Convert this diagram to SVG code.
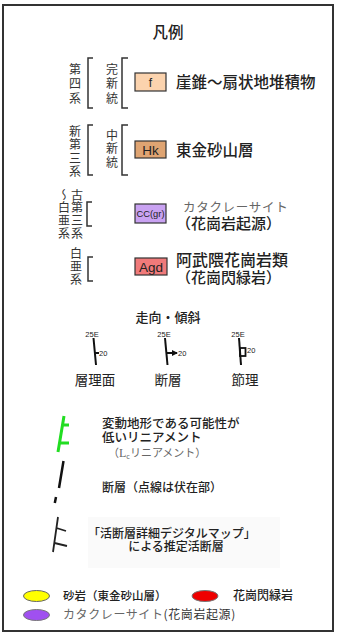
<svg xmlns="http://www.w3.org/2000/svg" width="338" height="636" viewBox="0 0 338 636">
<style>
text{font-family:"Noto Sans CJK JP","Noto Sans",sans-serif;fill:#222}
.v{font-size:12px;fill:#333;writing-mode:vertical-rl}
.lbl{font-size:15.5px;font-weight:500}
.sm{font-size:12.5px;font-weight:500}
.gray{fill:#666}
.br{fill:none;stroke:#333;stroke-width:1.5}
.box{stroke:#333;stroke-width:1.2}
.bt{font-family:"Liberation Sans",Arial,sans-serif;text-anchor:middle;fill:#222}
.sym{stroke:#111;stroke-width:2;fill:none}
.tiny{font-family:"Liberation Sans",Arial,sans-serif;font-size:7.5px;fill:#222}
</style>
<defs>
<marker id="ah" markerWidth="6" markerHeight="6" refX="5" refY="3" orient="auto" markerUnits="userSpaceOnUse">
<path d="M0,0 L6,3 L0,6 Z" fill="#111"/>
</marker>
</defs>
<rect x="3" y="5" width="330" height="626" fill="#fff" stroke="#333" stroke-width="2"/>
<text x="168" y="38" font-size="15.5" text-anchor="middle" font-weight="500">凡例</text>

<g id="row-f">
<text class="v" x="75" y="63" letter-spacing="2.5">第四系</text>
<path class="br" d="M93,58 H88 V108 H93"/>
<text class="v" x="112" y="63" letter-spacing="2.5">完新統</text>
<path class="br" d="M128,58 H122 V108 H128"/>
<rect class="box" x="135" y="73" width="31" height="18" fill="#fbd3ae"/>
<text class="bt" x="150.5" y="87" font-size="12">f</text>
<text class="lbl" x="176" y="88">崖錐～扇状地堆積物</text>
</g>

<g id="row-hk">
<text class="v" x="75" y="125" letter-spacing="1.5">新第三系</text>
<path class="br" d="M93,125 H88 V175 H93"/>
<text class="v" x="112" y="129" letter-spacing="1.5">中新統</text>
<path class="br" d="M128,125 H122 V175 H128"/>
<rect class="box" x="135" y="141" width="31" height="17" fill="#dfa472"/>
<text class="bt" x="150.5" y="154.5" font-size="13.5">Hk</text>
<text class="lbl" x="176" y="156">東金砂山層</text>
</g>

<g id="row-cc">
<text class="v" x="64" y="189" letter-spacing="0.7">～白亜系</text>
<text class="v" x="77" y="189" letter-spacing="0.7">古第三系</text>
<path class="br" d="M92,202 H87 V226 H92"/>
<rect class="box" x="135" y="204" width="31" height="19" fill="#c9a2f2"/>
<text class="bt" x="150.5" y="217" font-size="8.5" font-family="Liberation Mono,monospace" textLength="28" lengthAdjust="spacingAndGlyphs">CC(gr)</text>
<text x="176" y="212"><tspan class="gray" x="183" font-size="12.5" letter-spacing="0.7">カタクレーサイト</tspan><tspan x="176" y="229" font-size="15" font-weight="500">（花崗岩起源）</tspan></text>
</g>

<g id="row-agd">
<text class="v" x="76" y="247" letter-spacing="1">白亜系</text>
<path class="br" d="M93,257 H88 V281 H93"/>
<rect class="box" x="135" y="258" width="32" height="17" fill="#f07a7a"/>
<text class="bt" x="151" y="271.5" font-size="13.5">Agd</text>
<text class="lbl" x="176" y="266"><tspan font-size="16">阿武隈花崗岩類</tspan><tspan x="176" y="283" font-size="15">（花崗閃緑岩）</tspan></text>
</g>

<text x="168" y="322" font-size="13" text-anchor="middle" font-weight="500">走向・傾斜</text>

<g id="sym-bedding">
<text class="tiny" x="92" y="337" text-anchor="middle">25E</text>
<path class="sym" d="M93.5,338 L96,365 M95,353 H99"/>
<text class="tiny" x="99" y="356" font-size="8">20</text>
<text x="95" y="385" font-size="13.5" text-anchor="middle">層理面</text>
</g>
<g id="sym-fault">
<text class="tiny" x="164" y="337" text-anchor="middle">25E</text>
<path class="sym" d="M165,338 L167.5,365"/>
<path class="sym" d="M166.5,353 H177" marker-end="url(#ah)"/>
<text class="tiny" x="178" y="356" font-size="8">20</text>
<text x="168" y="385" font-size="13.5" text-anchor="middle">断層</text>
</g>
<g id="sym-joint">
<text class="tiny" x="238" y="337" text-anchor="middle">25E</text>
<path class="sym" d="M239,338 L241,365"/>
<rect x="240" y="348" width="5.5" height="8" fill="none" stroke="#111" stroke-width="1.8"/>
<text class="tiny" x="247" y="353" font-size="8">20</text>
<text x="245" y="385" font-size="13.5" text-anchor="middle">節理</text>
</g>

<g id="lineament">
<path d="M64,416 L58,452 M62.5,425 H69 M59.5,443 H69" stroke="#22dd22" stroke-width="3" fill="none"/>
<text class="sm" x="102" y="428">変動地形である可能性が<tspan x="102" y="442">低いリニアメント</tspan><tspan class="gray" x="108" y="457" font-size="11" font-weight="normal">（</tspan><tspan class="gray" font-family="Liberation Serif" font-size="12" font-weight="normal">L</tspan><tspan class="gray" font-size="7" dy="2" font-weight="normal">c</tspan><tspan class="gray" dy="-2" font-size="11" font-weight="normal">リニアメント）</tspan></text>
</g>

<g id="fault">
<path d="M63.5,461 L59,488 M56,497 L54.8,503" stroke="#111" stroke-width="2.5" fill="none"/>
<text x="102" y="492" font-size="12" font-weight="500">断層（点線は伏在部）</text>
</g>

<g id="active-fault">
<rect x="88" y="517" width="192" height="51" fill="#fafafa"/>
<path d="M58,517 L53,552 M56.5,528 L66,531 M54.5,543 L67,546" stroke="#222" stroke-width="1.8" fill="none"/>
<text x="172" y="538" font-size="12" font-weight="500" text-anchor="middle">「活断層詳細デジタルマップ」<tspan x="176" y="551">による推定活断層</tspan></text>
</g>

<g id="pt-sandstone">
<ellipse cx="36.5" cy="596" rx="13" ry="5.5" fill="#ffff00" stroke="#666" stroke-width="1"/>
<text x="63" y="600" font-size="11.5" font-weight="500">砂岩（東金砂山層）</text>
</g>
<g id="pt-granodiorite">
<ellipse cx="205" cy="596" rx="13" ry="5.5" fill="#ee0000" stroke="#777" stroke-width="1"/>
<text x="233" y="600" font-size="12" font-weight="500">花崗閃緑岩</text>
</g>
<g id="pt-cataclasite">
<ellipse cx="36.5" cy="615" rx="13" ry="5.5" fill="#a050f0" stroke="#777" stroke-width="1"/>
<text x="63" y="619" font-size="12" class="gray" letter-spacing="0.6">カタクレーサイト<tspan fill="#333">(花崗岩起源)</tspan></text>
</g>
</svg>
